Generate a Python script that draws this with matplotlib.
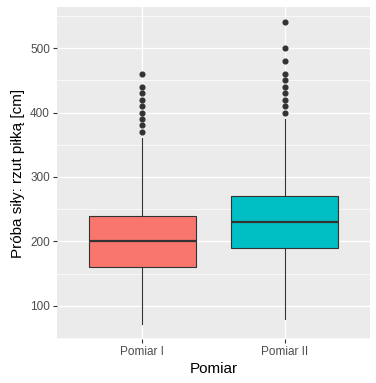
import matplotlib
matplotlib.use("Agg")
import matplotlib.pyplot as plt

categories = ["Pomiar I", "Pomiar II"]
colors = ["#F8766D", "#00BFC4"]
q1 = [160, 190]
medians = [200, 230]
q3 = [240, 270]
whisker_low = [72, 80]
whisker_high = [360, 390]
outliers = [
    [370, 380, 390, 400, 410, 420, 430, 440, 460],
    [400, 410, 420, 430, 440, 450, 460, 480, 500, 540],
]

plt.rcParams['font.family'] = ['Liberation Sans', 'DejaVu Sans']

fig = plt.figure(figsize=(3.76, 3.83), dpi=100)
ax = fig.add_axes([57/376, 1-339/383, 313/376, 332/383])
ax.set_facecolor("#EBEBEB")

stats = []
for i in range(len(categories)):
    stats.append(dict(med=medians[i], q1=q1[i], q3=q3[i], whislo=whisker_low[i],
                      whishi=whisker_high[i], fliers=outliers[i], label=categories[i]))

bp = ax.bxp(stats, positions=[1, 2], widths=0.75, patch_artist=True, showcaps=False,
            boxprops=dict(edgecolor="#333333", linewidth=0.8),
            medianprops=dict(color="#333333", linewidth=1.6, solid_capstyle='butt'),
            whiskerprops=dict(color="#333333", linewidth=0.8),
            flierprops=dict(marker='o', markerfacecolor="#333333", markeredgecolor="#333333",
                            markersize=3.4, linestyle='none'),
            zorder=3)
for patch, c in zip(bp['boxes'], colors):
    patch.set_facecolor(c)

ax.set_xlim(0.4, 2.6)
ax.set_ylim(48.8, 563.6)
ax.set_yticks([100, 200, 300, 400, 500])
ax.set_yticks([50, 150, 250, 350, 450, 550], minor=True)
ax.set_xticks([1, 2])
ax.set_xticklabels(categories)
ax.grid(True, which='major', color='white', linewidth=1.0, zorder=0)
ax.grid(True, which='minor', axis='y', color='white', linewidth=0.5, zorder=0)
ax.set_axisbelow(True)
for s in ax.spines.values():
    s.set_visible(False)
ax.tick_params(axis='both', which='major', length=3, width=0.8, color="#333333",
               labelcolor="#4D4D4D", labelsize=8.5, pad=2)
ax.tick_params(axis='y', which='minor', length=0)
ax.set_xlabel("Pomiar", fontsize=11, color="black", labelpad=3)
ax.set_ylabel("Próba siły: rzut piłką [cm]", fontsize=11, color="black", labelpad=4)

fig.savefig("out.png", dpi=100)
